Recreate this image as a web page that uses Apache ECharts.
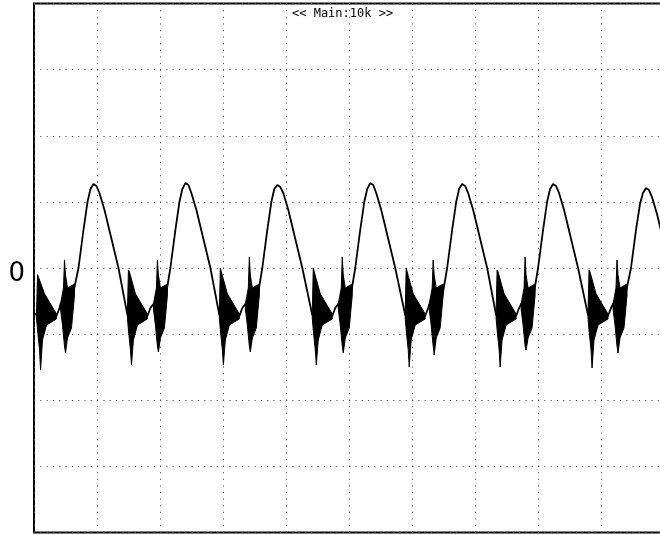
<!DOCTYPE html>
<html>
<head>
<meta charset="utf-8">
<script src="https://cdn.jsdelivr.net/npm/echarts@6.0.0/dist/echarts.min.js"></script>
<style>
html,body{margin:0;padding:0;background:#fff;}
#chart{width:660px;height:535px;}
</style>
</head>
<body>
<div id="chart"></div>
<script>
// Axis settings (divisions): 10 horizontal, 8 vertical
const xDivisions = [0, 10];
const yDivisions = [-4, 4];
const yLabelledValue = 0;
const titleText = '<< Main:10k >>';

// Main trace [time (div), level (div)]
const trace = [
  [0.000,-0.680],
  [0.040,-0.711],[0.357,-0.726],[0.405,-0.605],[0.420,-0.544],[0.627,-0.363],[0.706,0],[0.785,0.574],[0.849,0.998],[0.896,1.194],[0.944,1.270],[0.992,1.240],[1.039,1.134],[1.119,0.877],[1.341,0],
  [1.483,-0.711],[1.800,-0.726],[1.848,-0.605],[1.896,-0.544],[2.102,-0.363],[2.165,0],[2.244,0.574],[2.308,0.998],[2.355,1.194],[2.403,1.285],[2.451,1.255],[2.498,1.134],[2.578,0.877],[2.800,0],
  [2.942,-0.711],[3.259,-0.726],[3.307,-0.605],[3.355,-0.544],[3.561,-0.363],[3.624,0],[3.703,0.574],[3.767,0.998],[3.814,1.194],[3.862,1.255],[3.910,1.224],[3.957,1.134],[4.037,0.877],[4.259,0],
  [4.417,-0.711],[4.734,-0.726],[4.782,-0.605],[4.830,-0.544],[5.036,-0.363],[5.099,0],[5.178,0.574],[5.242,0.998],[5.289,1.194],[5.337,1.285],[5.385,1.255],[5.432,1.134],[5.512,0.877],[5.734,0],
  [5.892,-0.711],[6.209,-0.726],[6.257,-0.605],[6.273,-0.544],[6.447,-0.620],[6.558,0],[6.637,0.574],[6.701,0.998],[6.748,1.194],[6.796,1.270],[6.844,1.240],[6.891,1.134],[6.971,0.877],[7.193,0],
  [7.335,-0.711],[7.652,-0.726],[7.700,-0.605],[7.732,-0.544],[7.938,-0.363],[8.001,0],[8.080,0.574],[8.144,0.998],[8.191,1.194],[8.239,1.270],[8.287,1.240],[8.334,1.134],[8.414,0.877],[8.636,0],
  [8.794,-0.711],[9.111,-0.726],[9.159,-0.605],[9.191,-0.544],[9.397,-0.363],[9.476,0],[9.555,0.574],[9.619,0.968],[9.666,1.134],[9.714,1.209],[9.762,1.179],[9.809,1.073],[9.889,0.816],[10.000,0.378]
];

// Ringing bursts right after each trough (envelope outlines)
const burstFirst = [
  [[0.040,-0.680],[0.056,-0.100],[0.072,-0.140],[0.167,-0.390],[0.357,-0.695],[0.357,-0.771],[0.199,-0.862],[0.135,-1.089],[0.104,-1.542],[0.088,-1.240],[0.056,-0.937],[0.040,-0.756]],
  [[1.483,-0.680],[1.499,-0.030],[1.515,-0.060],[1.610,-0.390],[1.800,-0.695],[1.800,-0.771],[1.642,-0.862],[1.578,-1.089],[1.547,-1.466],[1.531,-1.240],[1.499,-0.937],[1.483,-0.756]],
  [[2.942,-0.680],[2.958,0.000],[2.974,-0.060],[3.069,-0.390],[3.259,-0.695],[3.259,-0.771],[3.101,-0.862],[3.037,-1.089],[3.006,-1.466],[2.990,-1.240],[2.958,-0.937],[2.942,-0.756]],
  [[4.417,-0.680],[4.433,0.000],[4.449,-0.060],[4.544,-0.390],[4.734,-0.695],[4.734,-0.771],[4.576,-0.862],[4.512,-1.089],[4.481,-1.466],[4.465,-1.240],[4.433,-0.937],[4.417,-0.756]],
  [[5.892,-0.680],[5.908,0.000],[5.924,-0.060],[6.019,-0.390],[6.209,-0.695],[6.209,-0.771],[6.051,-0.862],[5.987,-1.089],[5.956,-1.497],[5.940,-1.240],[5.908,-0.937],[5.892,-0.756]],
  [[7.335,-0.680],[7.351,-0.030],[7.367,-0.060],[7.462,-0.390],[7.652,-0.695],[7.652,-0.771],[7.494,-0.862],[7.430,-1.089],[7.399,-1.497],[7.383,-1.240],[7.351,-0.937],[7.335,-0.756]],
  [[8.794,-0.680],[8.810,-0.030],[8.826,-0.060],[8.921,-0.390],[9.111,-0.695],[9.111,-0.771],[8.953,-0.862],[8.889,-1.089],[8.858,-1.512],[8.842,-1.240],[8.810,-0.937],[8.794,-0.756]]
];

// Ringing bursts before each rising edge
const burstSecond = [
  [[0.421,-0.544],[0.468,-0.302],[0.484,0.121],[0.500,-0.106],[0.532,-0.302],[0.643,-0.242],[0.643,-0.408],[0.595,-0.907],[0.532,-1.058],[0.500,-1.285],[0.484,-1.179],[0.452,-0.862],[0.421,-0.620]],
  [[1.896,-0.544],[1.943,-0.302],[1.959,0.121],[1.975,-0.106],[2.007,-0.302],[2.118,-0.242],[2.118,-0.408],[2.070,-0.907],[2.007,-1.058],[1.975,-1.270],[1.959,-1.179],[1.927,-0.862],[1.896,-0.620]],
  [[3.355,-0.544],[3.402,-0.302],[3.418,0.166],[3.434,-0.106],[3.466,-0.302],[3.577,-0.242],[3.577,-0.408],[3.529,-0.907],[3.466,-1.058],[3.434,-1.270],[3.418,-1.179],[3.386,-0.862],[3.355,-0.620]],
  [[4.830,-0.544],[4.877,-0.302],[4.893,0.166],[4.909,-0.106],[4.941,-0.302],[5.052,-0.242],[5.052,-0.408],[5.004,-0.907],[4.941,-1.058],[4.909,-1.285],[4.893,-1.179],[4.861,-0.862],[4.830,-0.620]],
  [[6.273,-0.544],[6.320,-0.302],[6.336,0.121],[6.352,-0.106],[6.384,-0.302],[6.495,-0.242],[6.495,-0.408],[6.447,-0.907],[6.384,-1.058],[6.352,-1.315],[6.336,-1.179],[6.304,-0.862],[6.273,-0.620]],
  [[7.732,-0.544],[7.779,-0.302],[7.795,0.166],[7.811,-0.106],[7.843,-0.302],[7.954,-0.242],[7.954,-0.408],[7.906,-0.907],[7.843,-1.058],[7.811,-1.240],[7.795,-1.179],[7.763,-0.862],[7.732,-0.620]],
  [[9.191,-0.544],[9.238,-0.302],[9.254,0.121],[9.270,-0.106],[9.302,-0.302],[9.413,-0.242],[9.413,-0.408],[9.365,-0.907],[9.302,-1.058],[9.270,-1.285],[9.254,-1.179],[9.222,-0.862],[9.191,-0.620]]
];

function burstSeries(shapes) {
  return {
    type: 'custom',
    silent: true,
    clip: true,
    encode: { x: 0, y: 1 },
    data: shapes.map(s => [s[0][0], s[0][1]]),
    renderItem: function (params, api) {
      const pts = shapes[params.dataIndex].map(p => api.coord(p));
      return {
        type: 'polygon',
        shape: { points: pts },
        style: { fill: '#000', stroke: '#000', lineWidth: 1 }
      };
    },
    z: 3
  };
}

const chart = echarts.init(document.getElementById('chart'), null, { renderer: 'canvas' });
chart.setOption({
  animation: false,
  backgroundColor: '#fff',
  title: {
    text: titleText,
    left: 292,
    top: 8,
    padding: 0,
    textStyle: { fontFamily: 'DejaVu Sans Mono', fontSize: 12, fontWeight: 'normal', color: '#000' }
  },
  grid: {
    left: 34, top: 3.5, right: -4, bottom: 2.5,
    show: true, borderColor: '#000', borderWidth: 2, backgroundColor: 'transparent',
    containLabel: false, outerBoundsMode: 'none'
  },
  xAxis: {
    type: 'value', min: xDivisions[0], max: xDivisions[1], interval: 1,
    axisLine: { show: false }, axisTick: { show: false }, axisLabel: { show: false },
    splitLine: { show: true, lineStyle: { color: '#555', width: 1, type: [1.2, 5.4] } }
  },
  yAxis: {
    type: 'value', min: yDivisions[0], max: yDivisions[1], interval: 1,
    axisLine: { show: false }, axisTick: { show: false },
    axisLabel: {
      show: true, margin: 9, fontSize: 26, fontFamily: 'DejaVu Sans', color: '#000',
      verticalAlign: 'top', lineHeight: 12,
      formatter: v => (v === yLabelledValue ? String(yLabelledValue) : '')
    },
    splitLine: { show: true, lineStyle: { color: '#555', width: 1, type: [1.2, 5.1] } }
  },
  series: [
    {
      type: 'line', data: trace, showSymbol: false, symbol: 'none', silent: true,
      lineStyle: { color: '#000', width: 1.8 }, z: 4
    },
    burstSeries(burstFirst),
    burstSeries(burstSecond)
  ]
});
</script>
</body>
</html>
